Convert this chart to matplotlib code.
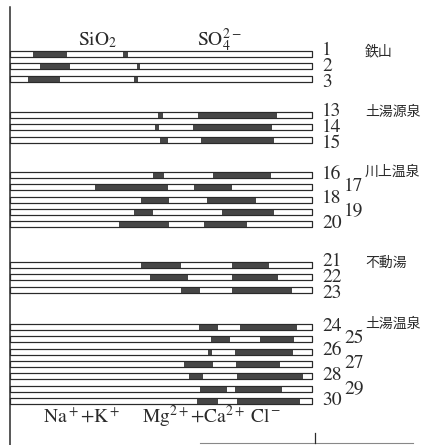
import matplotlib
matplotlib.use("Agg")
import matplotlib.pyplot as plt
from matplotlib.patches import Rectangle

plt.rcParams['mathtext.fontset'] = 'stix'

# sample numbers, grouped by spring
groups = ['鉄山', '土湯源泉', '川上温泉', '不動湯', '土湯温泉']
group_samples = [
    [1, 2, 3],
    [13, 14, 15],
    [16, 17, 18, 19, 20],
    [21, 22, 23],
    [24, 25, 26, 27, 28, 29, 30],
]

# dark bands along each bar, percent of bar length (left band, right band)
band1_start = [7.6, 9.9, 6.0, 49.0, 48.0, 49.7, 47.4, 28.1, 43.4, 41.1, 36.1,
               43.4, 46.4, 56.6, 62.6, 66.6, 65.6, 57.6, 59.3, 62.9, 61.9]
band1_end = [18.9, 19.9, 16.6, 50.7, 49.3, 52.3, 51.0, 52.3, 52.6, 47.4, 52.6,
             56.6, 58.9, 62.9, 68.9, 72.8, 66.9, 67.2, 63.9, 71.9, 68.9]
band2_start = [37.4, 42.1, 41.1, 62.3, 60.6, 63.2, 67.2, 60.9, 65.2, 70.2, 64.2,
               73.5, 73.5, 73.5, 76.2, 82.8, 74.5, 74.8, 75.2, 74.5, 75.2]
band2_end = [39.1, 43.0, 42.4, 88.4, 86.8, 87.4, 86.4, 73.5, 81.5, 87.4, 78.5,
             85.8, 88.7, 93.4, 95.0, 94.0, 93.7, 89.4, 97.0, 90.1, 96.0]

top_labels = [r'SiO$_2$', r'SO$_4^{2-}$']
bottom_labels = [r'Na$^+$+K$^+$', r'Mg$^{2+}$+Ca$^{2+}$', r'Cl$^-$']

# layout (y in pixels from top)
group_top = [54, 115, 175, 265, 327]
row_step = 12.35
bar_h = 6.0

fig = plt.figure(figsize=(4.26, 4.45), dpi=100)
ax = fig.add_axes([0, 0, 1, 1])
ax.set_xlim(-10 / 3.02, 416 / 3.02)
ax.set_ylim(445, 0)
ax.axis('off')

serif = 'STIXGeneral'
jp = 'Noto Sans CJK JP'
ink = '#2a2a2a'
dark = '#464646'

ax.plot([0, 0], [7, 445], color=ink, lw=1.1)

k = 0
for g, (name, samples) in enumerate(zip(groups, group_samples)):
    for i, s in enumerate(samples):
        yc = group_top[g] + i * row_step
        ax.add_patch(Rectangle((0, yc - bar_h / 2), 100, bar_h, facecolor='white',
                               edgecolor=ink, lw=0.8))
        for a, b in [(band1_start[k], band1_end[k]), (band2_start[k], band2_end[k])]:
            ax.add_patch(Rectangle((a, yc - bar_h / 2), b - a, bar_h,
                                   facecolor=dark, edgecolor='none'))
        ax.add_patch(Rectangle((0, yc - bar_h / 2), 100, bar_h, facecolor='none',
                               edgecolor=ink, lw=0.8))
        # number labels: three-bar groups spread out, longer groups zig-zag
        if len(samples) == 3:
            ty = yc + (i - 1) * 3.5
            tx = 103.3
        else:
            ty = yc - 1 + (0.5 if i % 2 else 0)
            tx = 110.6 if i % 2 else 103.3
        ax.text(tx, ty, str(s), family=serif, fontsize=14, va='center', ha='left', color=ink)
        k += 1
    ax.text(117.5, group_top[g] - (3 if g != 3 else 2), name, family=[jp, 'DejaVu Sans'],
            fontsize=10, va='center', ha='left', color=ink)

ax.text(22.5, 40, top_labels[0], family=serif, fontsize=14, va='center', ha='left', color=ink)
ax.text(61.9, 40, top_labels[1], family=serif, fontsize=14, va='center', ha='left', color=ink)
for x, lab in zip([10.9, 43.7, 79.5], bottom_labels):
    ax.text(x, 417, lab, family=serif, fontsize=14, va='center', ha='left', color=ink)

# bits of the scale at the bottom
ax.plot([62.9, 133.4], [443, 443], color='#888888', lw=0.8)
ax.plot([101.0, 101.0], [433, 443], color=ink, lw=0.9)

fig.savefig('out.png', dpi=100)
